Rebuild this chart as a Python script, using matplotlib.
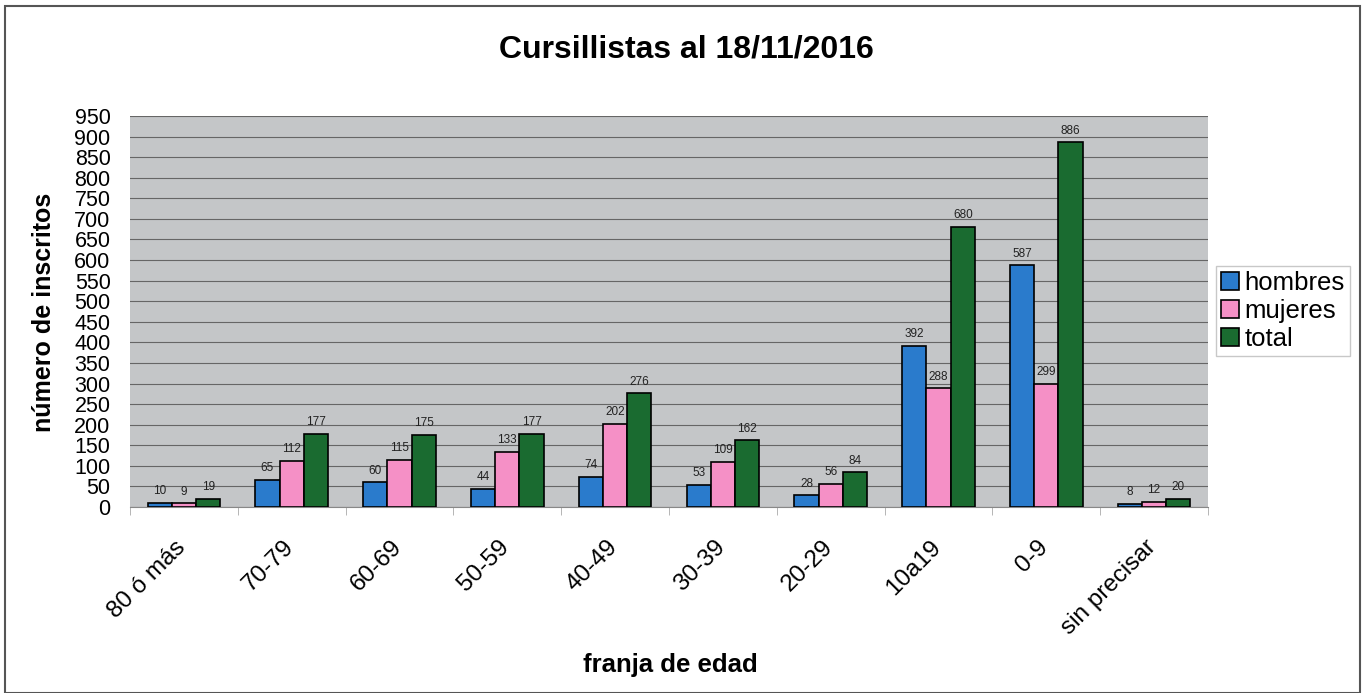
import matplotlib

matplotlib.use("Agg")
import matplotlib.pyplot as plt
import matplotlib.transforms as mtrans
import numpy as np
from matplotlib.patches import Rectangle

plt.rcParams["font.family"] = ["Liberation Sans", "DejaVu Sans"]

categories = ["80 ó más", "70-79", "60-69", "50-59", "40-49",
              "30-39", "20-29", "10a19", "0-9", "sin precisar"]
hombres = [10, 65, 60, 44, 74, 53, 28, 392, 587, 8]
mujeres = [9, 112, 115, 133, 202, 109, 56, 288, 299, 12]
total = [19, 177, 175, 177, 276, 162, 84, 680, 886, 20]

series = [("hombres", hombres, "#2a7bcc"),
          ("mujeres", mujeres, "#f590c6"),
          ("total", total, "#1a6b30")]

W, H = 1365, 693
fig = plt.figure(figsize=(W / 100, H / 100), dpi=100)
ax = fig.add_axes([130 / W, 1 - 507 / H, (1208 - 130) / W, (507 - 116) / H])
ax.set_facecolor("#c4c6c8")

x = np.arange(len(categories))
bw = 0.225
for i, (name, vals, col) in enumerate(series):
    pos = x + (i - 1) * bw
    bars = ax.bar(pos, vals, bw, color=col, edgecolor="black", linewidth=1.2,
                  label=name, zorder=3)
    for b, v in zip(bars, vals):
        ax.text(b.get_x() + b.get_width() / 2, v + 14, str(v), ha="center",
                va="bottom", fontsize=8.5, color="#222222", zorder=4)

ax.set_xlim(-0.5, len(categories) - 0.5)
ax.set_ylim(0, 950)
ax.set_yticks(np.arange(0, 951, 50))
ax.yaxis.grid(True, color="#666666", linewidth=0.8, zorder=0)
# labels packed tight like the scan, sized so they just don't collide
ax.tick_params(axis="y", length=0, labelsize=15.5, pad=14)
ax.set_xticks(x)
ax.set_xticklabels(categories, rotation=45, ha="right", rotation_mode="anchor",
                   fontsize=17.5)
ax.tick_params(axis="x", length=0, pad=21)
shift = mtrans.ScaledTranslation(-9 / 100, 0, fig.dpi_scale_trans)
for lab in ax.get_xticklabels():
    lab.set_transform(lab.get_transform() + shift)
ax.set_xticks(np.arange(-0.5, len(categories), 1), minor=True)
ax.tick_params(axis="x", which="minor", length=6, color="#aaaaaa")
for s in ["left", "right", "top"]:
    ax.spines[s].set_visible(False)
ax.spines["bottom"].set_color("#888888")

fig.text(44 / W, 1 - 312 / H, "número de inscritos", rotation=90, ha="center",
         va="center", fontsize=18, fontweight="bold")
fig.text(670 / W, 1 - 672 / H, "franja de edad", ha="center", va="baseline",
         fontsize=18.5, fontweight="bold")
fig.text(686 / W, 1 - 57 / H, "Cursillistas al 18/11/2016", ha="center",
         va="baseline", fontsize=23, fontweight="bold")

leg = fig.legend(loc="center left", bbox_to_anchor=(1216 / W, 1 - 311 / H),
                 fontsize=18.5, frameon=True, fancybox=False,
                 handlelength=0.7, handleheight=0.7, handletextpad=0.2,
                 labelspacing=0.15, borderpad=0.2, borderaxespad=0)
leg.get_frame().set_edgecolor("#bbbbbb")
leg.get_frame().set_linewidth(1.0)

fig.patches.append(Rectangle((5 / W, 0.0), (1360 - 5) / W, 1 - 6 / H,
                             transform=fig.transFigure, fill=False,
                             edgecolor="#555555", linewidth=1.5))

fig.savefig("out.png", dpi=100)
